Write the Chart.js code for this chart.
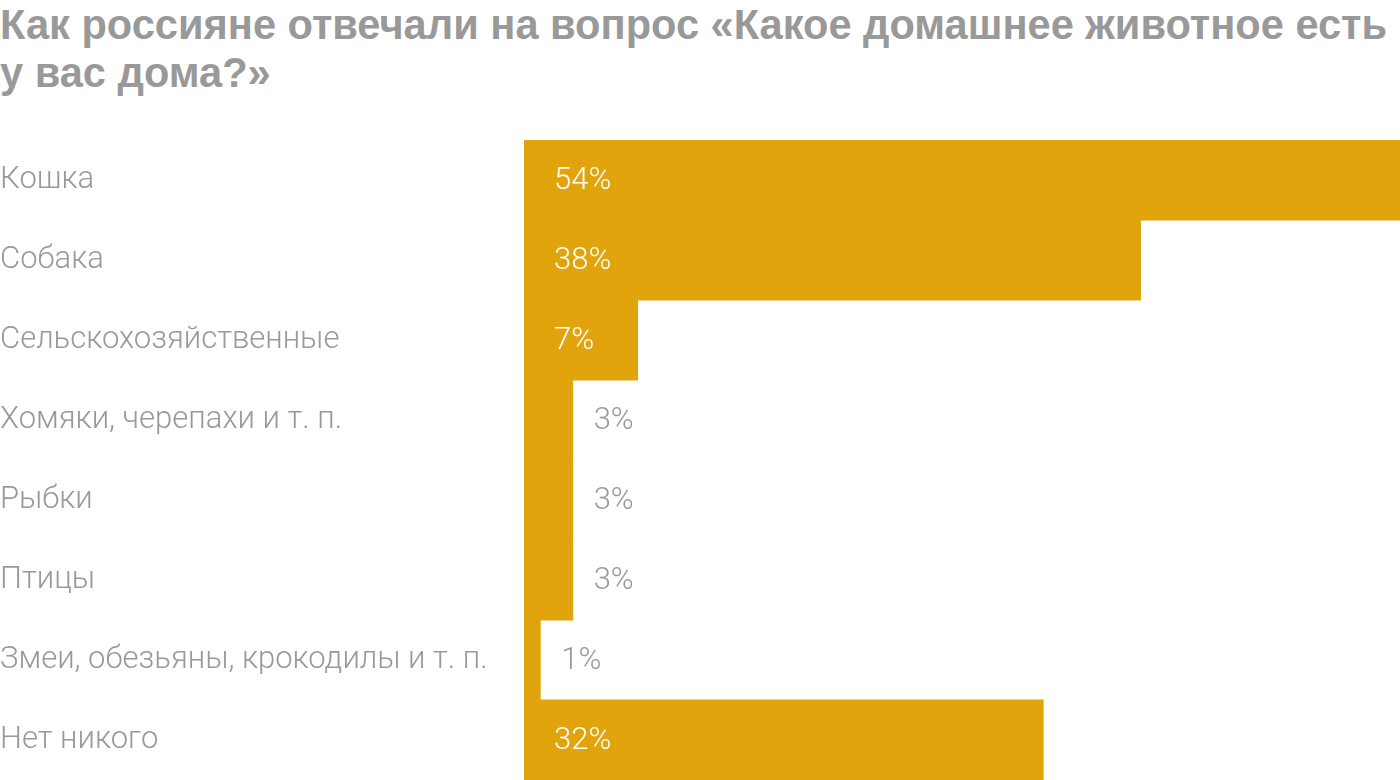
<!DOCTYPE html>
<html lang="ru">
<head>
<meta charset="utf-8">
<title>Домашние животные</title>
<script src="https://cdn.jsdelivr.net/npm/chart.js@4.4.1/dist/chart.umd.min.js"></script>
<style>
    html, body { margin: 0; padding: 0; background: #fff; }
    body { width: 1400px; height: 780px; position: relative; overflow: hidden; font-family: Roboto, sans-serif; }
    .title {
        position: absolute; left: 0; top: 1px; margin: 0;
        font-family: "Liberation Sans", Arial, sans-serif; font-weight: 700; font-size: 41.6px; line-height: 48px;
        color: #999; white-space: nowrap;
    }
    .chart-box { position: absolute; left: 0; top: 140px; width: 1400px; height: 640px; }
</style>
</head>
<body>
<h1 class="title">Как россияне отвечали на вопрос «Какое домашнее животное есть<br>у вас дома?»</h1>
<div class="chart-box"><canvas id="petsChart"></canvas></div>
<script>
// Chart data
const categories = [
    'Кошка',
    'Собака',
    'Сельскохозяйственные',
    'Хомяки, черепахи и т. п.',
    'Рыбки',
    'Птицы',
    'Змеи, обезьяны, крокодилы и т. п.',
    'Нет никого'
];
const shares = [54, 38, 7, 3, 3, 3, 1, 32];

const BAR_COLOR = '#E2A40C';
const TEXT_GREY = '#999999';

// Draw value labels: inside the bar when it is wide enough, otherwise after it
const valueLabels = {
    id: 'valueLabels',
    afterDatasetsDraw(chart) {
        const ctx = chart.ctx;
        const meta = chart.getDatasetMeta(0);
        ctx.save();
        ctx.font = '300 31px Roboto, sans-serif';
        ctx.textBaseline = 'middle';
        ctx.textAlign = 'left';
        meta.data.forEach((bar, i) => {
            const value = shares[i];
            const text = value + '%';
            if (value >= 7) {
                ctx.fillStyle = '#ffffff';
                ctx.fillText(text, bar.base + 30, bar.y + 1);
            } else {
                ctx.fillStyle = TEXT_GREY;
                ctx.fillText(text, bar.x + 21, bar.y + 1);
            }
        });
        ctx.restore();
    }
};

function createPetsChart() {
    const ctx = document.getElementById('petsChart').getContext('2d');
    new Chart(ctx, {
        type: 'bar',
        data: {
            labels: categories,
            datasets: [{
                data: shares,
                backgroundColor: BAR_COLOR,
                borderWidth: 0,
                inflateAmount: 0.5,
                categoryPercentage: 1,
                barPercentage: 1
            }]
        },
        plugins: [valueLabels],
        options: {
            indexAxis: 'y',
            responsive: true,
            maintainAspectRatio: false,
            animation: false,
            layout: { padding: 0, autoPadding: false },
            plugins: {
                legend: { display: false },
                tooltip: { enabled: false }
            },
            scales: {
                x: {
                    display: false,
                    min: 0,
                    max: 54
                },
                y: {
                    grid: { display: false, drawTicks: false },
                    border: { display: false },
                    afterFit(scale) {
                        // fixed label column, no extra room for the first/last tick text
                        scale.width = 524;
                        scale.paddingTop = 0;
                        scale.paddingBottom = 0;
                    },
                    ticks: {
                        crossAlign: 'far',
                        padding: 0,
                        color: TEXT_GREY,
                        font: { family: 'Roboto, sans-serif', size: 31, weight: '300' }
                    }
                }
            }
        }
    });
}

document.addEventListener('DOMContentLoaded', () => {
    createPetsChart();
});
</script>
</body>
</html>
